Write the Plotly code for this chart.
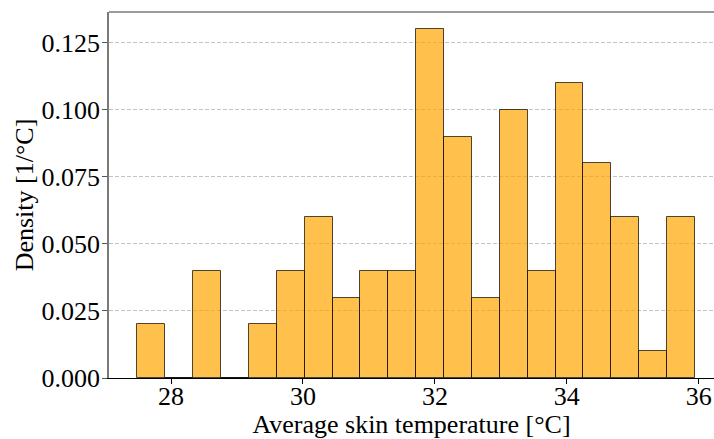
import numpy as np
import plotly.graph_objects as go

# Histogram bin edges (°C) and per-bin density values
bin_edges = [27.49, 27.91, 28.34, 28.76, 29.18, 29.60, 30.03, 30.45, 30.87, 31.29,
             31.72, 32.14, 32.56, 32.98, 33.41, 33.83, 34.25, 34.67, 35.10, 35.52, 35.94]
density = [0.02, 0.00, 0.04, 0.00, 0.02, 0.04, 0.06, 0.03, 0.04, 0.04,
           0.13, 0.09, 0.03, 0.10, 0.04, 0.11, 0.08, 0.06, 0.01, 0.06]
x_ticks = [28, 30, 32, 34, 36]
y_ticks = [0.000, 0.025, 0.050, 0.075, 0.100, 0.125]

edges = np.array(bin_edges)
centers = (edges[:-1] + edges[1:]) / 2
widths = np.diff(edges)

font_family = "Liberation Serif, Times New Roman, serif"

fig = go.Figure(
    go.Bar(
        x=centers,
        y=density,
        width=widths,
        marker=dict(
            color="rgba(255,165,0,0.7)",
            line=dict(color="rgba(0,0,0,0.7)", width=1),
        ),
        hoverinfo="x+y",
    )
)

fig.update_layout(
    width=714,
    height=439,
    margin=dict(l=109, r=0, t=12, b=61),
    paper_bgcolor="white",
    plot_bgcolor="white",
    font=dict(family=font_family, size=26, color="black"),
    showlegend=False,
    bargap=0,
)

fig.update_xaxes(
    range=[27.06, 36.23],
    tickmode="array",
    tickvals=x_ticks,
    ticktext=[str(v) for v in x_ticks],
    ticks="outside",
    ticklen=5,
    tickcolor="black",
    ticklabelstandoff=-10,
    showgrid=False,
    zeroline=False,
    showline=True,
    linecolor="black",
    linewidth=1,
    mirror=False,
    title=dict(text="Average skin temperature [°C]", font=dict(size=26), standoff=0),
)

fig.update_yaxes(
    range=[0, 0.1365],
    tickmode="array",
    tickvals=y_ticks,
    ticktext=[f"{v:.3f}" for v in y_ticks],
    ticks="outside",
    ticklen=5,
    tickcolor="#555555",
    ticklabelstandoff=-3,
    showgrid=True,
    gridcolor="#c4c4c4",
    gridwidth=1,
    griddash="4px,2px",
    zeroline=False,
    showline=True,
    linecolor="#7a7a7a",
    linewidth=1.5,
    title=dict(text="Density [1/°C]", font=dict(size=26), standoff=0),
)

# Top frame line of the axes box
fig.add_shape(
    type="line", xref="paper", yref="paper",
    x0=0, x1=1, y0=1, y1=1,
    line=dict(color="#7a7a7a", width=1.5),
)

fig.write_html("out.html")
